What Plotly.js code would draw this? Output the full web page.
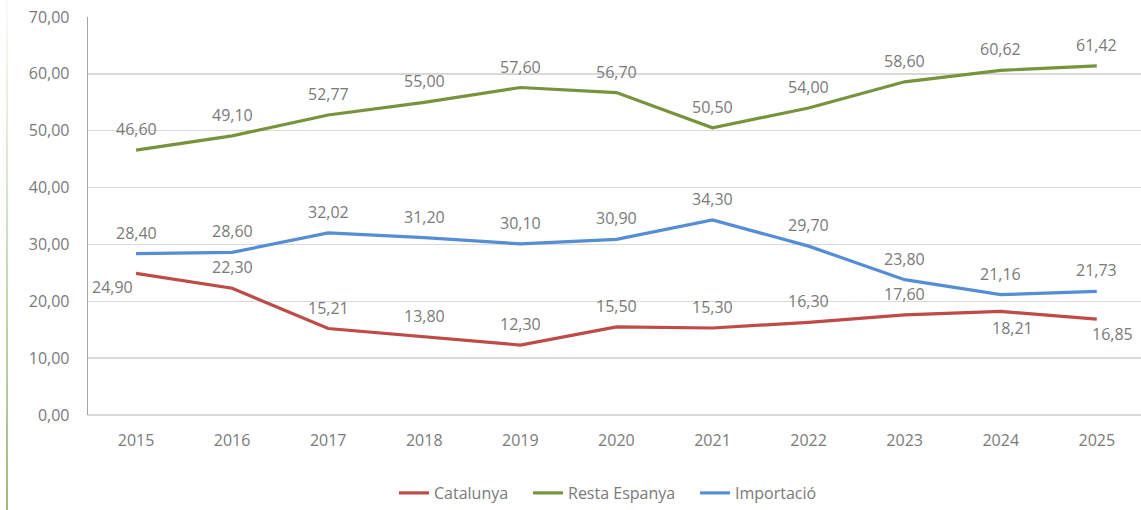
<!DOCTYPE html>
<html>
<head>
<meta charset="utf-8">
<script src="https://cdn.plot.ly/plotly-3.0.1.min.js"></script>
<style>
  html, body { margin: 0; padding: 0; background: #fff; }
  #wrap { position: relative; width: 1141px; height: 510px; }
  #chart { width: 1141px; height: 510px; }
  #edge { position: absolute; left: 6px; top: 0; width: 2px; height: 510px;
          background: linear-gradient(to bottom, rgba(166,189,134,0.05) 0%, rgba(166,189,134,0.45) 40%, rgba(160,185,125,1) 100%);
          pointer-events: none; }
</style>
</head>
<body>
<div id="wrap">
  <div id="chart"></div>
  <div id="edge"></div>
</div>
<script>
const years = ['2015','2016','2017','2018','2019','2020','2021','2022','2023','2024','2025'];
const catalunya  = [24.90, 22.30, 15.21, 13.80, 12.30, 15.50, 15.30, 16.30, 17.60, 18.21, 16.85];
const restaEspanya = [46.60, 49.10, 52.77, 55.00, 57.60, 56.70, 50.50, 54.00, 58.60, 60.62, 61.42];
const importacio = [28.40, 28.60, 32.02, 31.20, 30.10, 30.90, 34.30, 29.70, 23.80, 21.16, 21.73];
const seriesNames = ['Catalunya', 'Resta Espanya', 'Importació'];
const yTicks = [0, 10, 20, 30, 40, 50, 60, 70];

const colors = ['#BE4B48', '#77933C', '#558ED5'];
const textColor = '#7A7A7A';
const fontFamily = '"Open Sans", "Liberation Sans", sans-serif';

const allSeries = [catalunya, restaEspanya, importacio];
const legendIds = ['legend', 'legend2', 'legend3'];

const traces = allSeries.map((vals, i) => ({
  type: 'scatter',
  mode: 'lines',
  x: years,
  y: vals,
  name: seriesNames[i],
  legend: legendIds[i],
  line: { color: colors[i], width: 3.2 },
  hoverinfo: 'skip'
}));

// label offsets (pixels) per series/point: default above
function offsetFor(series, idx) {
  if (series === 0) {
    if (idx === 0) return [-24, -14];
    if (idx === 9) return [12, -17];
    if (idx === 10) return [16, -15];
  }
  return [0, 21];
}

const fmt = v => v.toFixed(2).replace('.', ',');
const annotations = [];
allSeries.forEach((vals, s) => {
  vals.forEach((v, i) => {
    const [dx, dy] = offsetFor(s, i);
    annotations.push({
      x: i, y: v, xref: 'x', yref: 'y',
      text: fmt(v), showarrow: false,
      xshift: dx, yshift: dy,
      font: { family: fontFamily, size: 16, color: textColor }
    });
  });
});

const plotLeft = 88, plotWidth = 1053;
const legendPx = [394, 528, 695];
const legendFont = { family: fontFamily, size: 16, color: textColor };
function mkLegend(px) {
  return {
    orientation: 'h', x: (px - plotLeft) / plotWidth, xanchor: 'left',
    y: -0.195, yanchor: 'middle', font: legendFont, bgcolor: 'rgba(0,0,0,0)'
  };
}

const layout = {
  width: 1141, height: 510,
  margin: { l: 88, r: 0, t: 17, b: 94, pad: 0 },
  paper_bgcolor: '#ffffff',
  plot_bgcolor: '#ffffff',
  separators: ',.',
  showlegend: true,
  legend: mkLegend(legendPx[0]),
  legend2: mkLegend(legendPx[1]),
  legend3: mkLegend(legendPx[2]),
  xaxis: {
    type: 'category',
    range: [-0.5, 10.46],
    showgrid: false, zeroline: false,
    showline: false,
    ticks: '',
    tickfont: { family: fontFamily, size: 16, color: textColor },
    ticklabelstandoff: 14,
    fixedrange: true
  },
  yaxis: {
    range: [0, 70],
    tickvals: yTicks,
    tickformat: '.2f',
    showgrid: true, gridcolor: '#D9D9D9', gridwidth: 1.3,
    zeroline: true, zerolinecolor: '#D9D9D9', zerolinewidth: 1.3,
    showline: true, linecolor: '#A6A6A6', linewidth: 1.3,
    ticks: '',
    tickfont: { family: fontFamily, size: 16, color: textColor },
    ticklabelstandoff: 14,
    fixedrange: true
  },
  annotations: annotations,
  hovermode: false
};

Plotly.newPlot('chart', traces, layout, { displayModeBar: false, staticPlot: true });
</script>
</body>
</html>
